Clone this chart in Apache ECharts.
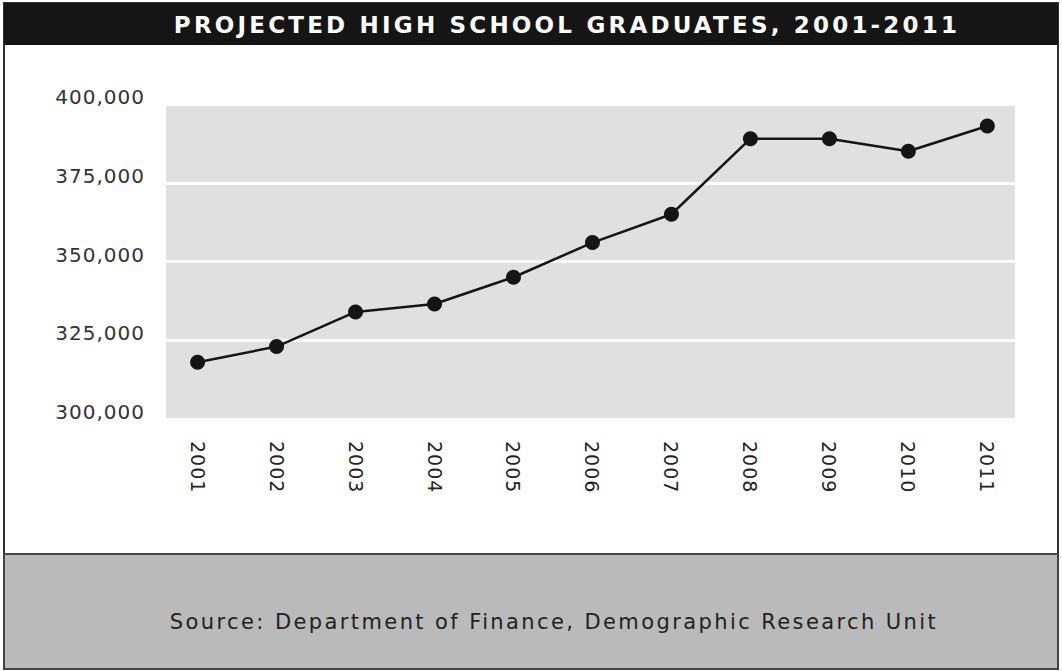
<!DOCTYPE html>
<html>
<head>
<meta charset="utf-8">
<script src="https://cdn.jsdelivr.net/npm/echarts@6/dist/echarts.min.js"></script>
<style>
  html, body { margin: 0; padding: 0; background: #ffffff; }
  #chart { width: 1062px; height: 671px; }
  #chart text { letter-spacing: 1px; }
</style>
</head>
<body>
<div id="chart"></div>
<script>
// Projected high school graduates by year
const years = [2001, 2002, 2003, 2004, 2005, 2006, 2007, 2008, 2009, 2010, 2011];
const graduates = [318000, 323000, 334000, 336500, 345000, 356000, 365000, 389000, 389000, 385000, 393000];
const yTicks = [300000, 325000, 350000, 375000, 400000];

const titleText = 'PROJECTED HIGH SCHOOL GRADUATES, 2001-2011';
const sourceText = 'Source: Department of Finance, Demographic Research Unit';

const FONT = '"DejaVu Sans", Verdana, sans-serif';
const INK = '#151515';

const chart = echarts.init(document.getElementById('chart'), null, { renderer: 'svg' });

chart.setOption({
  animation: false,
  backgroundColor: '#ffffff',
  graphic: [
    // outer frame
    { type: 'rect', shape: { x: 4, y: 3, width: 1054, height: 666 },
      style: { fill: 'none', stroke: '#333333', lineWidth: 2 }, silent: true },
    // title band
    { type: 'rect', shape: { x: 4, y: 3, width: 1054, height: 42 },
      style: { fill: INK }, silent: true },
    // footer band
    { type: 'rect', shape: { x: 4, y: 554, width: 1054, height: 115 },
      style: { fill: '#bababa', stroke: '#444444', lineWidth: 2 }, silent: true },
    { type: 'text', x: 567, y: 25,
      style: { text: titleText, fill: '#ffffff', font: 'bold 23px ' + FONT,
               textAlign: 'center', textVerticalAlign: 'middle' }, silent: true },
    { type: 'text', x: 554, y: 622,
      style: { text: sourceText, fill: '#222222', font: '21px ' + FONT,
               textAlign: 'center', textVerticalAlign: 'middle' }, silent: true }
  ],
  grid: {
    left: 166, right: 47, top: 104, bottom: 252,
    show: true, backgroundColor: '#e0e0e0', borderWidth: 0
  },
  xAxis: {
    type: 'value',
    min: 2000.6,
    max: 2011.35,
    axisLine: { show: false },
    axisTick: { show: false },
    splitLine: { show: false },
    axisLabel: {
      customValues: years,
      rotate: -90,
      margin: 22,
      color: '#222222',
      fontFamily: FONT,
      fontSize: 19,
      formatter: v => String(v)
    }
  },
  yAxis: {
    type: 'value',
    min: yTicks[0],
    max: yTicks[yTicks.length - 1],
    interval: 25000,
    axisLine: { show: false },
    axisTick: { show: false },
    splitLine: { show: true, lineStyle: { color: '#ffffff', width: 3 } },
    axisLabel: {
      margin: 21,
      color: '#333333',
      fontFamily: FONT,
      fontSize: 20,
      verticalAlign: 'bottom',
      lineHeight: 14,
      formatter: v => v.toLocaleString('en-US')
    }
  },
  series: [{
    type: 'line',
    data: years.map((y, i) => [y, graduates[i]]),
    symbol: 'circle',
    symbolSize: 15,
    lineStyle: { color: INK, width: 2.5 },
    itemStyle: { color: INK },
    silent: true
  }]
});

// wider tracking for the banner title and the source line
function trackText() {
  document.querySelectorAll('#chart text').forEach(t => {
    if (t.textContent === titleText) t.style.letterSpacing = '3.2px';
    else if (t.textContent === sourceText) t.style.letterSpacing = '2.4px';
  });
}
chart.on('finished', trackText);
trackText();
</script>
</body>
</html>
